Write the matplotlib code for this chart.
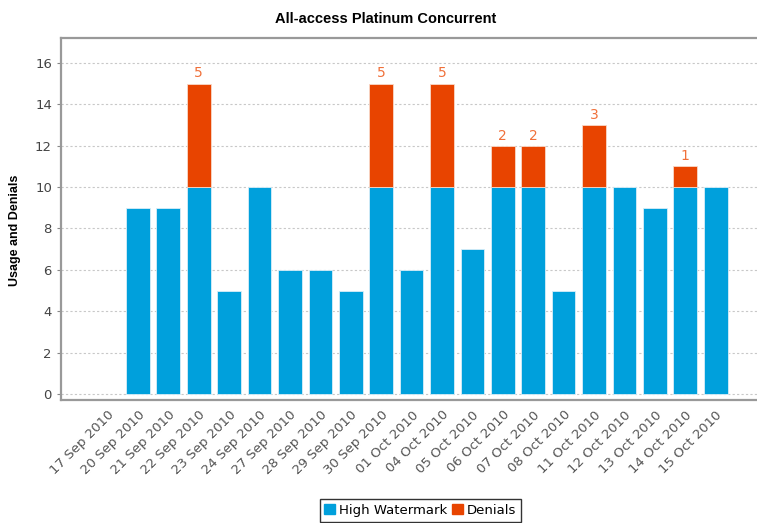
import matplotlib
matplotlib.use("Agg")
import matplotlib.pyplot as plt
import matplotlib.transforms as mtransforms
from matplotlib.patches import Patch

dates = ["17 Sep 2010", "20 Sep 2010", "21 Sep 2010", "22 Sep 2010", "23 Sep 2010",
         "24 Sep 2010", "27 Sep 2010", "28 Sep 2010", "29 Sep 2010", "30 Sep 2010",
         "01 Oct 2010", "04 Oct 2010", "05 Oct 2010", "06 Oct 2010", "07 Oct 2010",
         "08 Oct 2010", "11 Oct 2010", "12 Oct 2010", "13 Oct 2010", "14 Oct 2010",
         "15 Oct 2010"]
high_watermark = [0, 9, 9, 10, 5, 10, 6, 6, 5, 10, 6, 10, 7, 10, 10, 5, 10, 10, 9, 10, 10]
denials = [0, 0, 0, 5, 0, 0, 0, 0, 0, 5, 0, 5, 0, 2, 2, 0, 3, 0, 0, 1, 0]

blue = "#00A0DC"
orange = "#E84400"

fig = plt.figure(figsize=(7.57, 5.23), dpi=100)
ax = fig.add_axes([0.0806, 0.2352, 0.9194, 0.6921])

x = list(range(len(dates)))
# skip empty segments so no stray edge lines are drawn at zero height
hw_x = [i for i in x if high_watermark[i] > 0]
ax.bar(hw_x, [high_watermark[i] for i in hw_x], width=0.78, color=blue,
       edgecolor="#d8eef8", linewidth=0.6, zorder=3)
den_x = [i for i in x if denials[i] > 0]
ax.bar(den_x, [denials[i] for i in den_x], width=0.78,
       bottom=[high_watermark[i] for i in den_x], color=orange,
       edgecolor="#f8d8c8", linewidth=0.6, zorder=3)

for i in den_x:
    ax.text(i, high_watermark[i] + denials[i] + 0.15, str(denials[i]),
            ha="center", va="bottom", color="#F0703A", fontsize=10, zorder=4)

ax.set_xlim(-1.53, 21.36)
ax.set_ylim(-0.29, 17.2)
ax.set_yticks(range(0, 17, 2))
ax.yaxis.grid(True, linestyle=(0, (2, 2)), color="#c8c8c8", linewidth=0.8, zorder=0)

ax.set_xticks(x)
ax.set_xticklabels(dates, rotation=45, ha="right", rotation_mode="anchor",
                   fontsize=9.5, color="#555555")
offset = mtransforms.ScaledTranslation(0.09, 0.0, fig.dpi_scale_trans)
for lbl in ax.get_xticklabels():
    lbl.set_transform(lbl.get_transform() + offset)
ax.tick_params(axis="x", length=0, pad=6)
ax.tick_params(axis="y", labelsize=9.5, labelcolor="#444444", length=3, color="#888888")

for side in ["left", "top", "bottom"]:
    ax.spines[side].set_color("#999999")
    ax.spines[side].set_linewidth(1.6)
ax.spines["right"].set_visible(False)

ax.set_ylabel("Usage and Denials", fontsize=9, fontweight="bold",
              family="Liberation Sans")
ax.yaxis.set_label_coords(-0.058, 0.47)
fig.suptitle("All-access Platinum Concurrent", x=0.51, y=0.978, fontsize=10.5,
             fontweight="bold", family="Liberation Sans")

handles = [Patch(color=blue, label="High Watermark"), Patch(color=orange, label="Denials")]
leg = fig.legend(handles=handles, loc="center", bbox_to_anchor=(0.555, 0.024), ncol=2,
                 fontsize=9.5, frameon=True, fancybox=False, handlelength=0.8,
                 handleheight=0.8, handletextpad=0.3, columnspacing=0.4,
                 borderpad=0.35, borderaxespad=0)
leg.get_frame().set_edgecolor("black")
leg.get_frame().set_linewidth(1.0)

fig.savefig("out.png", dpi=100)
